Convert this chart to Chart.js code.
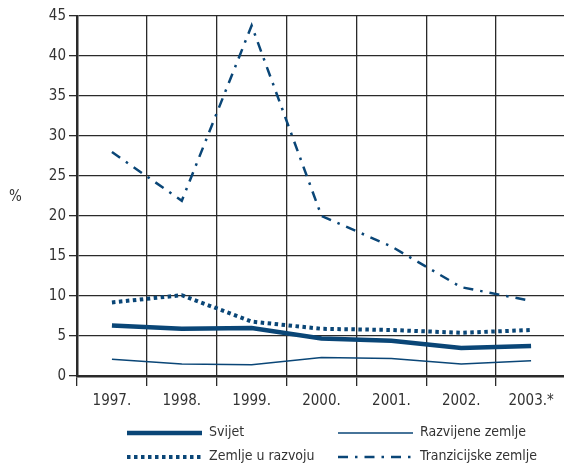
<!DOCTYPE html>
<html>
<head>
<meta charset="utf-8">
<script src="https://cdn.jsdelivr.net/npm/chart.js@4"></script>
<style>
  html, body { margin: 0; padding: 0; background: #fff; overflow: hidden; }
  #wrap { width: 566px; height: 464px; }
</style>
</head>
<body>
<div id="wrap"><canvas id="lineChart" width="566" height="464"></canvas></div>
<script>
const years = ['1997.', '1998.', '1999.', '2000.', '2001.', '2002.', '2003.*'];
const svijet = [6.3, 5.9, 6.0, 4.7, 4.4, 3.5, 3.75];
const razvijene = [2.1, 1.5, 1.4, 2.3, 2.2, 1.5, 1.9];
const uRazvoju = [9.2, 10.1, 6.8, 5.9, 5.75, 5.4, 5.75];
const tranzicijske = [28.0, 21.9, 43.8, 20.0, 16.2, 11.1, 9.4];

const blue = '#0a4677';
const font = "'Liberation Sans Narrow', 'DejaVu Sans Condensed', sans-serif";
const gridColor = '#2a2a2a';

// legend and % label drawn on the canvas
const extras = {
  id: 'extras',
  afterDraw(chart) {
    const ctx = chart.ctx;
    ctx.save();
    ctx.fillStyle = '#333';
    ctx.font = '15px ' + font;
    ctx.textBaseline = 'middle';
    ctx.fillText('%', 9, 197);

    const spots = [[127, 433], [338, 433], [127, 457], [338, 457]];
    ctx.font = '14px ' + font;
    chart.data.datasets.forEach(function(ds, k) {
      const [x, y] = spots[k];
      ctx.beginPath();
      ctx.strokeStyle = ds.borderColor;
      ctx.lineWidth = ds.borderWidth;
      ctx.setLineDash(ds.borderDash || []);
      ctx.moveTo(x, y);
      ctx.lineTo(x + 75, y);
      ctx.stroke();
      ctx.setLineDash([]);
      ctx.fillStyle = '#333';
      ctx.textAlign = 'left';
      ctx.fillText(ds.label, x + 82, y - 1);
    });
    ctx.restore();
  }
};

const ctx = document.getElementById('lineChart').getContext('2d');
const lineChart = new Chart(ctx, {
  type: 'line',
  data: {
    labels: years,
    datasets: [
      {
        label: 'Svijet',
        data: svijet,
        borderColor: blue,
        borderWidth: 4.5,
        pointRadius: 0,
        tension: 0
      }, {
        label: 'Razvijene zemlje',
        data: razvijene,
        borderColor: blue,
        borderWidth: 1.5,
        pointRadius: 0,
        tension: 0
      }, {
        label: 'Zemlje u razvoju',
        data: uRazvoju,
        borderColor: blue,
        borderWidth: 4,
        borderDash: [3.5, 3.5],
        pointRadius: 0,
        tension: 0
      }, {
        label: 'Tranzicijske zemlje',
        data: tranzicijske,
        borderColor: blue,
        borderWidth: 2.5,
        borderDash: [10, 7, 2.5, 7],
        pointRadius: 0,
        tension: 0
      }
    ]
  },
  options: {
    responsive: false,
    animation: false,
    layout: { padding: { top: 16, left: 0, right: 0, bottom: 0 } },
    plugins: {
      legend: { display: false },
      tooltip: { enabled: false }
    },
    scales: {
      x: {
        offset: true,
        afterFit: function(s) { s.height = 88; },
        grid: {
          offset: true,
          color: gridColor,
          lineWidth: 1.3,
          tickLength: 10
        },
        border: { color: gridColor, width: 2.5 },
        ticks: {
          color: '#333',
          padding: 6,
          maxRotation: 0,
          font: { family: font, size: 15 }
        }
      },
      y: {
        min: 0,
        max: 45,
        afterFit: function(s) { s.width = 77; },
        grid: {
          color: gridColor,
          lineWidth: 1.3,
          tickLength: 8
        },
        border: { color: gridColor, width: 2.5 },
        ticks: {
          stepSize: 5,
          color: '#333',
          padding: 3,
          font: { family: font, size: 15 }
        }
      }
    }
  },
  plugins: [extras]
});
</script>
</body>
</html>
